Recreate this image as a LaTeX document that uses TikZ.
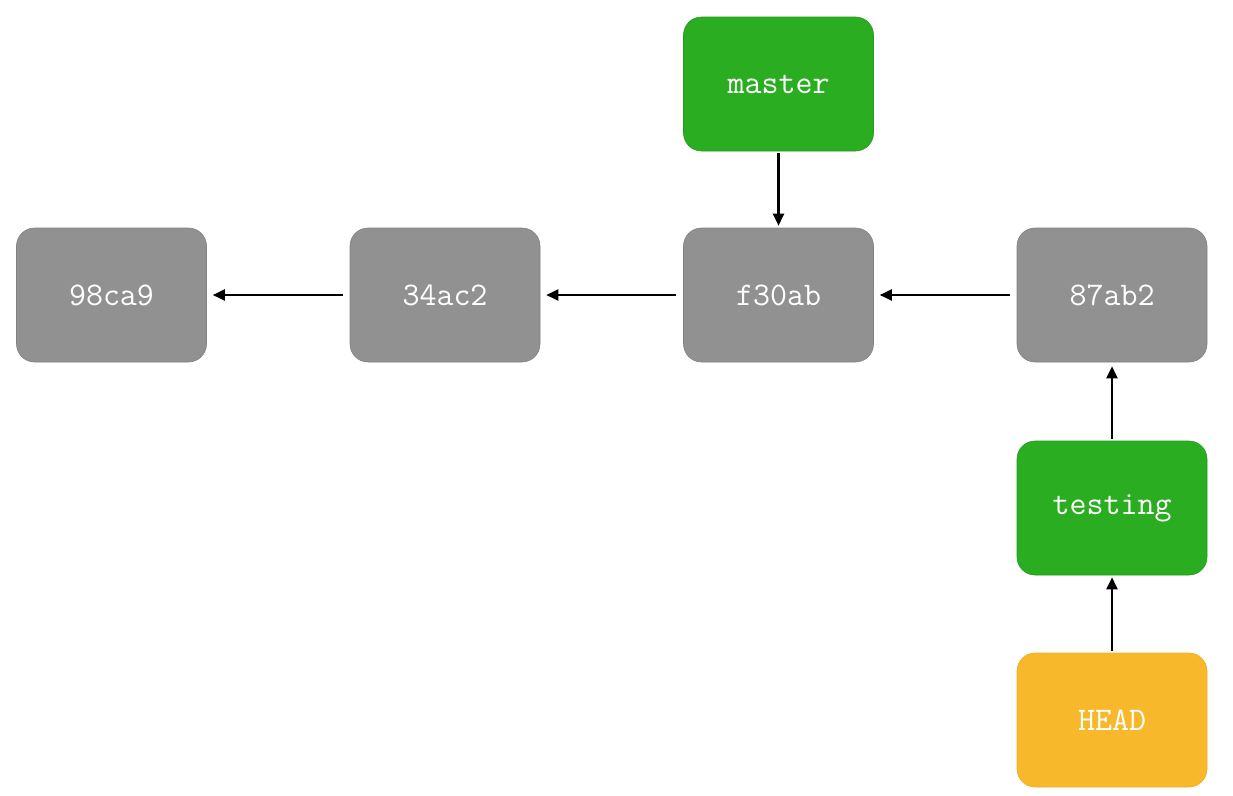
\documentclass[tikz,border=0pt]{standalone}
\usepackage{fontspec}
\usetikzlibrary{arrows.meta}
\definecolor{commitgray}{HTML}{919191}
\definecolor{branchgreen}{HTML}{2AAD20}
\definecolor{headorange}{HTML}{F7B82B}
\tikzset{
  box/.style={rounded corners=18pt, minimum width=190pt, minimum height=134pt,
    inner sep=0pt, text=white, font=\ttfamily\fontsize{33}{33}\selectfont\addfontfeature{LetterSpace=6}},
  commit/.style={box, fill=commitgray, draw=commitgray!90!black, line width=0.6pt},
  branch/.style={box, fill=branchgreen, draw=branchgreen!90!black, line width=0.6pt},
  headbox/.style={box, fill=headorange, draw=headorange!95!black, line width=0.6pt},
  ptr/.style={-{Triangle[length=12pt,width=11pt]}, line width=2.2pt, black},
}
\begin{document}
\begin{tikzpicture}[x=1pt,y=-1pt]
\useasboundingbox (0,0) rectangle (1233,795);
\node[commit] (c1) at (111.5,295) {98ca9};
\node[commit] (c2) at (445,295) {34ac2};
\node[commit] (c3) at (778.5,295) {f30ab};
\node[commit] (c4) at (1112,295) {87ab2};
\node[branch] (master) at (778.5,84) {master};
\node[branch] (testing) at (1112,508) {testing};
\node[headbox] (head) at (1112,720) {HEAD};
\draw[ptr, shorten <=7pt, shorten >=6pt] (c2) -- (c1);
\draw[ptr, shorten <=7pt, shorten >=6pt] (c3) -- (c2);
\draw[ptr, shorten <=7pt, shorten >=6pt] (c4) -- (c3);
\draw[ptr, shorten <=2pt, shorten >=2pt] (master) -- (c3);
\draw[ptr, shorten <=2pt, shorten >=4pt] (testing) -- (c4);
\draw[ptr, shorten <=2pt, shorten >=2pt] (head) -- (testing);
\end{tikzpicture}
\end{document}
